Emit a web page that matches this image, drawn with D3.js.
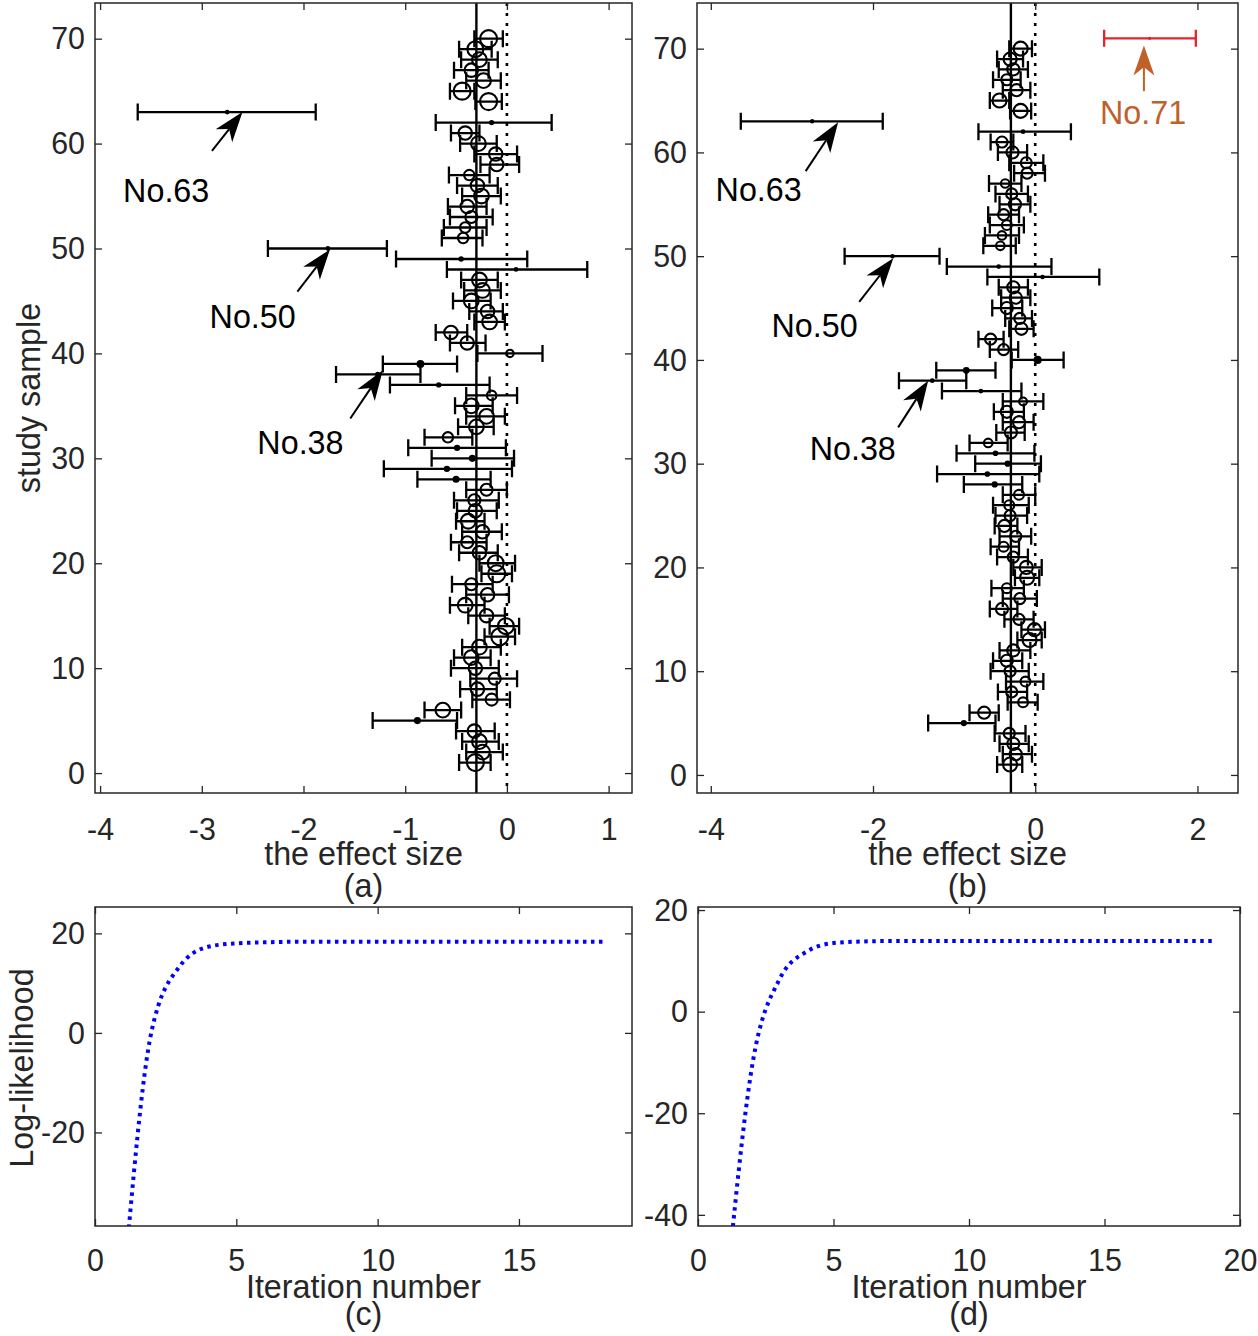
<!DOCTYPE html>
<meta charset="utf-8">
<title>forest plot and log-likelihood</title>
<style>
html, body {
    margin: 0;
    background: #fff;
}
svg {
    display: block;
    font-family: "Liberation Sans", Arial, sans-serif;
}
</style>
<body>
<svg></svg>
<script src="https://cdn.jsdelivr.net/npm/d3@7"></script>
<script>
// ---- data ----
var studies = d3.range(1, 71);

var effect = [
    -0.31, -0.24, -0.27, -0.32, -0.88, -0.63, -0.15, -0.29, -0.12, -0.31,
    -0.35, -0.27, -0.07, -0.01, -0.20, -0.41, -0.19, -0.35, -0.10, -0.11,
    -0.27, -0.39, -0.24, -0.38, -0.31, -0.32, -0.20, -0.50, -0.59, -0.34,
    -0.49, -0.58, -0.30, -0.20, -0.35, -0.15, -0.67, -1.27, -0.85, 0.03,
    -0.39, -0.55, -0.17, -0.19, -0.35, -0.24, -0.27, 0.09, -0.45, -1.76,
    -0.43, -0.41, -0.35, -0.39, -0.25, -0.29, -0.37, -0.10, -0.11, -0.28,
    -0.41, -0.15, -2.75, -0.18, -0.44, -0.23, -0.35, -0.27, -0.31, -0.18
];
var lower = [
    -0.47, -0.40, -0.44, -0.50, -1.32, -0.81, -0.34, -0.46, -0.36, -0.55,
    -0.52, -0.44, -0.22, -0.17, -0.38, -0.56, -0.40, -0.54, -0.25, -0.27,
    -0.47, -0.55, -0.44, -0.50, -0.49, -0.52, -0.40, -0.88, -1.21, -0.74,
    -0.97, -0.81, -0.48, -0.40, -0.51, -0.40, -1.15, -1.68, -1.22, -0.29,
    -0.56, -0.70, -0.32, -0.37, -0.53, -0.42, -0.45, -0.59, -1.09, -2.35,
    -0.64, -0.62, -0.56, -0.58, -0.44, -0.49, -0.57, -0.26, -0.32, -0.46,
    -0.55, -0.70, -3.63, -0.31, -0.56, -0.40, -0.52, -0.45, -0.47, -0.32
];
var upper = [
    -0.16, -0.04, -0.08, -0.12, -0.49, -0.45, 0.03, -0.10, 0.10, -0.08,
    -0.16, -0.06, 0.08, 0.12, -0.02, -0.22, 0.02, -0.14, 0.05, 0.08,
    -0.09, -0.20, -0.05, -0.22, -0.10, -0.08, 0.00, -0.16, 0.05, 0.07,
    -0.01, -0.34, -0.13, -0.02, -0.14, 0.10, -0.17, -0.85, -0.49, 0.35,
    -0.21, -0.39, -0.02, -0.04, -0.16, -0.06, -0.09, 0.79, 0.20, -1.18,
    -0.24, -0.20, -0.14, -0.20, -0.06, -0.09, -0.17, 0.12, 0.10, -0.10,
    -0.27, 0.44, -1.88, -0.05, -0.32, -0.06, -0.18, -0.09, -0.15, -0.04
];
var weight = [
    8, 6, 6, 5, 0.7, 6, 4, 5, 4, 5,
    6, 6, 8, 7, 5, 6, 5, 4, 8, 7,
    5, 4, 5, 6, 5, 4, 4, 0.7, 0.5, 0.7,
    0.5, 3, 6, 6, 6, 2.5, 0.3, 0.3, 0.9, 1.5,
    5, 5, 6, 5, 6, 6, 6, 0.2, 0.3, 0.2,
    3, 3, 4, 5, 6, 5, 3, 5, 5, 6,
    5, 0.3, 0.2, 8, 8, 6, 5, 6, 7, 8
];

// the extra study added in panel (b)
var extraStudy = 71, extraEffect = 1.41, extraLower = 0.85, extraUpper = 1.98;

var pooled = -0.30;

var iterC = d3.range(1, 19);
var logLikC = [-52, 0.3, 13.4, 17.3, 18.0, 18.2, 18.3, 18.3, 18.3,
               18.3, 18.3, 18.3, 18.3, 18.3, 18.3, 18.3, 18.3, 18.3];
var iterD = d3.range(1, 20);
var logLikD = [-58, -10.6, 6.3, 11.8, 13.5, 13.8, 13.9, 13.9, 13.9, 13.9,
               13.9, 13.9, 13.9, 13.9, 13.9, 13.9, 13.9, 13.9, 13.9];

var xTicksA = [-4, -3, -2, -1, 0, 1],
    xTicksB = [-4, -2, 0, 2],
    yTicksForest = [0, 10, 20, 30, 40, 50, 60, 70],
    xTicksC = [0, 5, 10, 15],
    yTicksC = [-20, 0, 20],
    xTicksD = [0, 5, 10, 15, 20],
    yTicksD = [-40, -20, 0, 20];

var notesA = [
    {label: "No.63", tip: [-2.60, 63.0], tail: [-2.90, 59.3], text: [-3.35, 55.6]},
    {label: "No.50", tip: [-1.74, 49.9], tail: [-2.06, 45.9], text: [-2.50, 43.6]},
    {label: "No.38", tip: [-1.22, 38.4], tail: [-1.54, 33.8], text: [-2.03, 31.6]}
];
var notesB = [
    {label: "No.63", tip: [-2.43, 62.9], tail: [-2.83, 58.2], text: [-3.41, 56.5]},
    {label: "No.50", tip: [-1.75, 49.8], tail: [-2.17, 45.6], text: [-2.72, 43.4]},
    {label: "No.38", tip: [-1.32, 38.0], tail: [-1.69, 33.5], text: [-2.25, 31.5]},
    {label: "No.71", tip: [1.34, 70.3], tail: [1.34, 65.9], text: [1.33, 63.9], color: "#c0602a"}
];

// ---- drawing ----
var width = 1258,
    height = 1336,
    ink = "#262626",
    tickFont = 32,
    labelFont = 34,
    squeeze = 0.95;

var svg = d3.select("svg")
    .attr("width", width)
    .attr("height", height);

function squeezedText(g, x, y, str, size, sx) {
    return g.append("text")
        .attr("transform", "translate(" + x + "," + y + ")scale(" + sx + ",1)")
        .attr("text-anchor", "middle")
        .attr("dy", "0.36em")
        .attr("font-size", size)
        .attr("fill", ink)
        .text(str);
}

function plain(d) { return String(d); }

function frame(g, box, x, y, xTicks, yTicks, pad) {
    var tick = 7;

    g.append("g")
        .attr("transform", "translate(0," + box.bottom + ")")
        .call(d3.axisBottom(x).tickValues(xTicks).tickFormat(plain)
            .tickSizeInner(-tick).tickSizeOuter(0).tickPadding(pad));
    g.append("g")
        .attr("transform", "translate(0," + box.top + ")")
        .call(d3.axisTop(x).tickValues(xTicks).tickFormat("")
            .tickSizeInner(-tick).tickSizeOuter(0));
    g.append("g")
        .attr("transform", "translate(" + box.left + ",0)")
        .call(d3.axisLeft(y).tickValues(yTicks).tickFormat(plain)
            .tickSizeInner(-tick).tickSizeOuter(0).tickPadding(10));
    g.append("g")
        .attr("transform", "translate(" + box.right + ",0)")
        .call(d3.axisRight(y).tickValues(yTicks).tickFormat("")
            .tickSizeInner(-tick).tickSizeOuter(0));

    g.selectAll(".domain").remove();
    g.selectAll(".tick line").attr("stroke", ink).attr("stroke-width", 1.3);
    g.selectAll(".tick text")
        .attr("font-size", tickFont)
        .attr("font-family", null)
        .attr("fill", ink)
        .each(function() {
            var t = d3.select(this);
            var tx = +t.attr("x") || 0;
            t.attr("x", tx / squeeze).attr("transform", "scale(" + squeeze + ",1)");
        });

    g.append("rect")
        .attr("x", box.left)
        .attr("y", box.top)
        .attr("width", box.right - box.left)
        .attr("height", box.bottom - box.top)
        .attr("fill", "none")
        .attr("stroke", ink)
        .attr("stroke-width", 1.5);
}

function arrow(g, x, y, d) {
    var color = d.color || "#000",
        tx = x(d.tip[0]), ty = y(d.tip[1]),
        sx = x(d.tail[0]), sy = y(d.tail[1]),
        ang = Math.atan2(ty - sy, tx - sx),
        L = 30, W = 21, notch = 0.72 * L,
        ux = Math.cos(ang), uy = Math.sin(ang),
        px = -uy, py = ux;

    var bx = tx - ux * L, by = ty - uy * L,
        nx = tx - ux * notch, ny = ty - uy * notch;

    g.append("line")
        .attr("x1", sx).attr("y1", sy)
        .attr("x2", nx).attr("y2", ny)
        .attr("stroke", color)
        .attr("stroke-width", 2);

    g.append("path")
        .attr("d", "M" + [tx, ty] +
            "L" + [bx + px * W / 2, by + py * W / 2] +
            "L" + [nx, ny] +
            "L" + [bx - px * W / 2, by - py * W / 2] + "Z")
        .attr("fill", color);

    g.append("text")
        .attr("transform", "translate(" + x(d.text[0]) + "," + y(d.text[1]) + ")scale(0.95,1)")
        .attr("text-anchor", "middle")
        .attr("dy", "0.36em")
        .attr("font-size", 34)
        .attr("fill", d.color || "#000")
        .text(d.label);
}

function errorBar(g, x, y, rows, cap, color) {
    g.append("g").selectAll("path")
        .data(rows)
        .enter().append("path")
        .attr("fill", "none")
        .attr("stroke", color)
        .attr("stroke-width", 2.3)
        .attr("d", function(d) {
            var yy = y(d.s), a = x(d.lo), b = x(d.hi);
            return "M" + [a, yy - cap] + "V" + (yy + cap) +
                "M" + [a, yy] + "H" + b +
                "M" + [b, yy - cap] + "V" + (yy + cap);
        });
}

function forest(box, xDomain, xTicks, yDomain, rMax, notes, withExtra, xlabel, tag) {
    var g = svg.append("g");
    var x = d3.scaleLinear().domain(xDomain).range([box.left, box.right]),
        y = d3.scaleLinear().domain(yDomain).range([box.bottom, box.top]),
        r = d3.scaleSqrt().domain([0, 8]).range([0, rMax]);

    var rows = studies.map(function(s, i) {
        return {s: s, m: effect[i], lo: lower[i], hi: upper[i], w: weight[i]};
    });

    g.append("line")
        .attr("x1", x(pooled)).attr("x2", x(pooled))
        .attr("y1", box.top).attr("y2", box.bottom)
        .attr("stroke", "#000")
        .attr("stroke-width", 2.4);

    g.append("line")
        .attr("x1", x(0)).attr("x2", x(0))
        .attr("y1", box.top).attr("y2", box.bottom)
        .attr("stroke", "#000")
        .attr("stroke-width", 2.6)
        .attr("stroke-dasharray", "3,7");

    errorBar(g, x, y, rows, 8.5, "#000");

    g.append("g").selectAll("circle")
        .data(rows)
        .enter().append("circle")
        .attr("cx", function(d) { return x(d.m); })
        .attr("cy", function(d) { return y(d.s); })
        .attr("r", function(d) { return Math.max(r(d.w), 1.2); })
        .attr("fill", function(d) { return r(d.w) < 3.2 ? "#000" : "none"; })
        .attr("stroke", "#000")
        .attr("stroke-width", 2.1);

    if (withExtra) {
        var ex = [{s: extraStudy, m: extraEffect, lo: extraLower, hi: extraUpper}];
        errorBar(g, x, y, ex, 8.5, "#e3242b");
        g.append("circle")
            .attr("cx", x(extraEffect))
            .attr("cy", y(extraStudy))
            .attr("r", 1.6)
            .attr("fill", "#e3242b");
    }

    notes.forEach(function(d) { arrow(g, x, y, d); });

    frame(g, box, x, y, xTicks, yTicksForest, 24);

    var cx = (box.left + box.right) / 2;
    squeezedText(g, cx, 853, xlabel, labelFont, squeeze);
    squeezedText(g, cx, 885, tag, labelFont, squeeze);
}

function likelihood(box, xDomain, xTicks, yDomain, yTicks, iters, values, tag) {
    var g = svg.append("g");
    var x = d3.scaleLinear().domain(xDomain).range([box.left, box.right]),
        y = d3.scaleLinear().domain(yDomain).range([box.bottom, box.top]);

    var id = "clip-" + tag.replace(/\W/g, "");
    svg.append("clipPath").attr("id", id)
        .append("rect")
        .attr("x", box.left).attr("y", box.top)
        .attr("width", box.right - box.left)
        .attr("height", box.bottom - box.top);

    var line = d3.line()
        .x(function(d) { return x(d[0]); })
        .y(function(d) { return y(d[1]); })
        .curve(d3.curveMonotoneX);

    g.append("path")
        .datum(d3.zip(iters, values))
        .attr("clip-path", "url(#" + id + ")")
        .attr("d", line)
        .attr("fill", "none")
        .attr("stroke", "#0000ff")
        .attr("stroke-width", 4)
        .attr("stroke-dasharray", "3.5,4.5");

    frame(g, box, x, y, xTicks, yTicks, 22);

    var cx = (box.left + box.right) / 2;
    squeezedText(g, cx, 1286, "Iteration number", labelFont, squeeze);
    squeezedText(g, cx, 1313, tag, labelFont, squeeze);
}

var boxA = {left: 95, right: 632, top: 3, bottom: 793},
    boxB = {left: 697, right: 1238, top: 3, bottom: 793},
    boxC = {left: 95, right: 632, top: 907, bottom: 1226},
    boxD = {left: 698, right: 1240, top: 907, bottom: 1226};

forest(boxA, [-4.05, 1.23], xTicksA, [-1.9, 73.4], 8.5, notesA, false, "the effect size", "(a)");
forest(boxB, [-4.17, 2.5], xTicksB, [-1.74, 74.4], 7, notesB, true, "the effect size", "(b)");
likelihood(boxC, [0, 19], xTicksC, [-38.8, 25.3], yTicksC, iterC, logLikC, "(c)");
likelihood(boxD, [0, 20], xTicksD, [-42.2, 20.6], yTicksD, iterD, logLikD, "(d)");

// y labels
svg.append("text")
    .attr("transform", "translate(28,398)rotate(-90)scale(" + squeeze + ",1)")
    .attr("text-anchor", "middle")
    .attr("dy", "0.36em")
    .attr("font-size", labelFont)
    .attr("fill", ink)
    .text("study sample");

svg.append("text")
    .attr("transform", "translate(21,1068)rotate(-90)scale(" + squeeze + ",1)")
    .attr("text-anchor", "middle")
    .attr("dy", "0.36em")
    .attr("font-size", labelFont)
    .attr("fill", ink)
    .text("Log-likelihood");
</script>
